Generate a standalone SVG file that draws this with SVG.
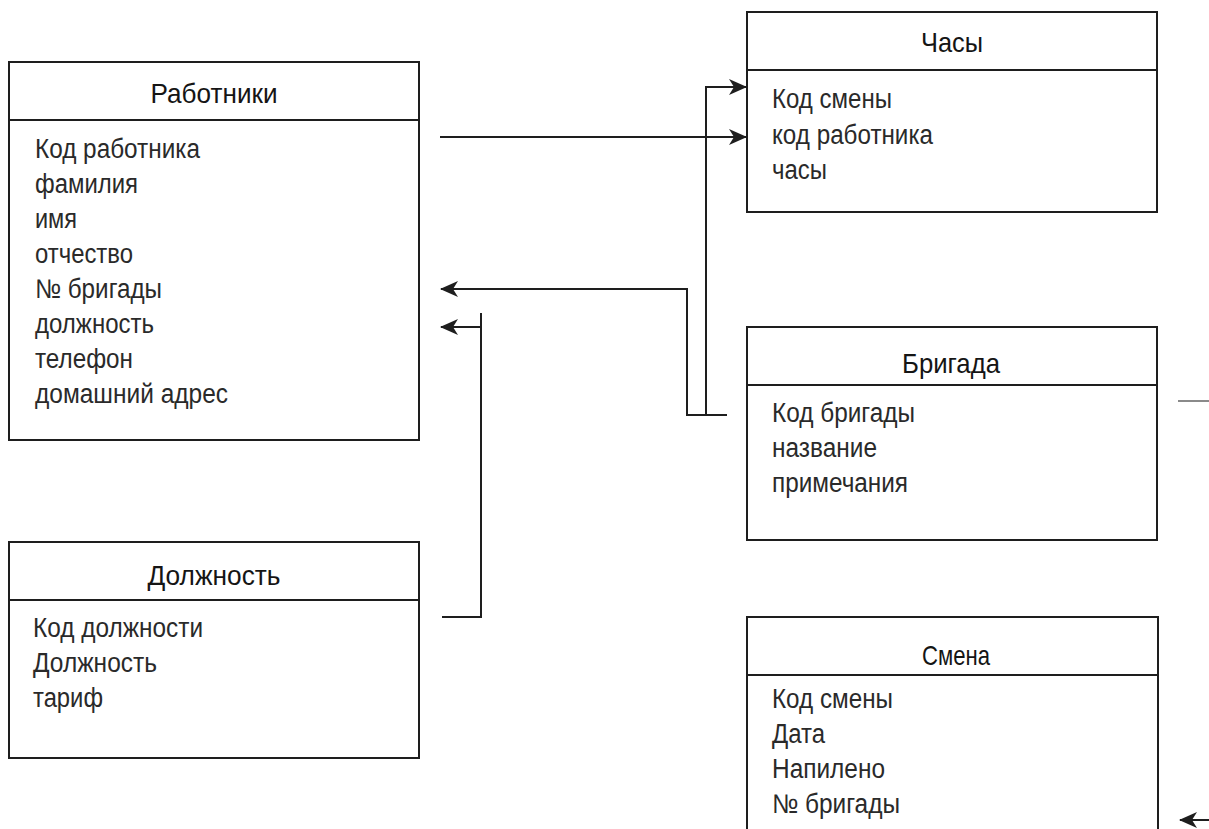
<svg xmlns="http://www.w3.org/2000/svg" width="1209" height="829" viewBox="0 0 1209 829">
<style>
  .box { fill: #ffffff; stroke: #1e1e1e; stroke-width: 2; }
  .sep { stroke: #1e1e1e; stroke-width: 2; }
  .title { font-family: "Liberation Sans", Arial, sans-serif; font-size: 28px; fill: #151515; text-anchor: middle; }
  .item { font-family: "Liberation Sans", Arial, sans-serif; font-size: 27px; fill: #2a2a2a; }
  .conn { fill: none; stroke: #1e1e1e; stroke-width: 2; }
  .gray { fill: none; stroke: #8a8a8a; stroke-width: 2; }
</style>
<defs>
  <marker id="arrow" viewBox="0 0 18 18" refX="17" refY="9" markerWidth="18" markerHeight="18" markerUnits="userSpaceOnUse" orient="auto">
    <path d="M0,1 L18,9 L0,17 L5,9 Z" fill="#1e1e1e"/>
  </marker>
</defs>
<rect width="1209" height="829" fill="#ffffff"/>

<g id="rabotniki">
  <rect class="box" x="9" y="62" width="410" height="378"/>
  <line class="sep" x1="9" y1="120" x2="419" y2="120"/>
  <text class="title" x="214" y="103" textLength="127" lengthAdjust="spacingAndGlyphs">Работники</text>
  <text class="item" x="35" y="158" textLength="165" lengthAdjust="spacingAndGlyphs">Код работника</text>
  <text class="item" x="35" y="193" textLength="103" lengthAdjust="spacingAndGlyphs">фамилия</text>
  <text class="item" x="35" y="228" textLength="42" lengthAdjust="spacingAndGlyphs">имя</text>
  <text class="item" x="35" y="263" textLength="98" lengthAdjust="spacingAndGlyphs">отчество</text>
  <text class="item" x="35" y="298" textLength="127" lengthAdjust="spacingAndGlyphs">№ бригады</text>
  <text class="item" x="35" y="333" textLength="119" lengthAdjust="spacingAndGlyphs">должность</text>
  <text class="item" x="35" y="368" textLength="98" lengthAdjust="spacingAndGlyphs">телефон</text>
  <text class="item" x="35" y="403" textLength="193" lengthAdjust="spacingAndGlyphs">домашний адрес</text>
</g>

<g id="chasy">
  <rect class="box" x="747" y="12" width="410" height="200"/>
  <line class="sep" x1="747" y1="70" x2="1157" y2="70"/>
  <text class="title" x="952" y="52" textLength="62" lengthAdjust="spacingAndGlyphs">Часы</text>
  <text class="item" x="772" y="108" textLength="120" lengthAdjust="spacingAndGlyphs">Код смены</text>
  <text class="item" x="772" y="144" textLength="161" lengthAdjust="spacingAndGlyphs">код работника</text>
  <text class="item" x="772" y="179" textLength="55" lengthAdjust="spacingAndGlyphs">часы</text>
</g>

<g id="brigada">
  <rect class="box" x="747" y="327" width="410" height="213"/>
  <line class="sep" x1="747" y1="385" x2="1157" y2="385"/>
  <text class="title" x="951" y="373" textLength="98" lengthAdjust="spacingAndGlyphs">Бригада</text>
  <text class="item" x="772" y="422" textLength="143" lengthAdjust="spacingAndGlyphs">Код бригады</text>
  <text class="item" x="772" y="457" textLength="105" lengthAdjust="spacingAndGlyphs">название</text>
  <text class="item" x="772" y="492" textLength="136" lengthAdjust="spacingAndGlyphs">примечания</text>
</g>

<g id="dolzhnost">
  <rect class="box" x="9" y="542" width="410" height="216"/>
  <line class="sep" x1="9" y1="600" x2="419" y2="600"/>
  <text class="title" x="214" y="585" textLength="133" lengthAdjust="spacingAndGlyphs">Должность</text>
  <text class="item" x="33" y="637" textLength="170" lengthAdjust="spacingAndGlyphs">Код должности</text>
  <text class="item" x="33" y="672" textLength="124" lengthAdjust="spacingAndGlyphs">Должность</text>
  <text class="item" x="33" y="707" textLength="70" lengthAdjust="spacingAndGlyphs">тариф</text>
</g>

<g id="smena">
  <path class="box" d="M747,840 V617 H1158 V840"/>
  <line class="sep" x1="747" y1="675" x2="1158" y2="675"/>
  <text class="title" x="956" y="665" textLength="68" lengthAdjust="spacingAndGlyphs">Смена</text>
  <text class="item" x="772" y="708" textLength="121" lengthAdjust="spacingAndGlyphs">Код смены</text>
  <text class="item" x="772" y="743" textLength="53" lengthAdjust="spacingAndGlyphs">Дата</text>
  <text class="item" x="772" y="778" textLength="113" lengthAdjust="spacingAndGlyphs">Напилено</text>
  <text class="item" x="772" y="813" textLength="128" lengthAdjust="spacingAndGlyphs">№ бригады</text>
</g>

<g id="connectors">
  <path class="conn" d="M440,137 H746" marker-end="url(#arrow)"/>
  <path class="conn" d="M706,415 V87 H746" marker-end="url(#arrow)"/>
  <path class="conn" d="M727,415 H687 V289 H441" marker-end="url(#arrow)"/>
  <path class="conn" d="M442,617 H481 V313"/>
  <path class="conn" d="M481,327 H441" marker-end="url(#arrow)"/>
  <path class="gray" d="M1178,401 H1209"/>
  <path class="conn" d="M1209,820 H1180" marker-end="url(#arrow)"/>
</g>
</svg>
